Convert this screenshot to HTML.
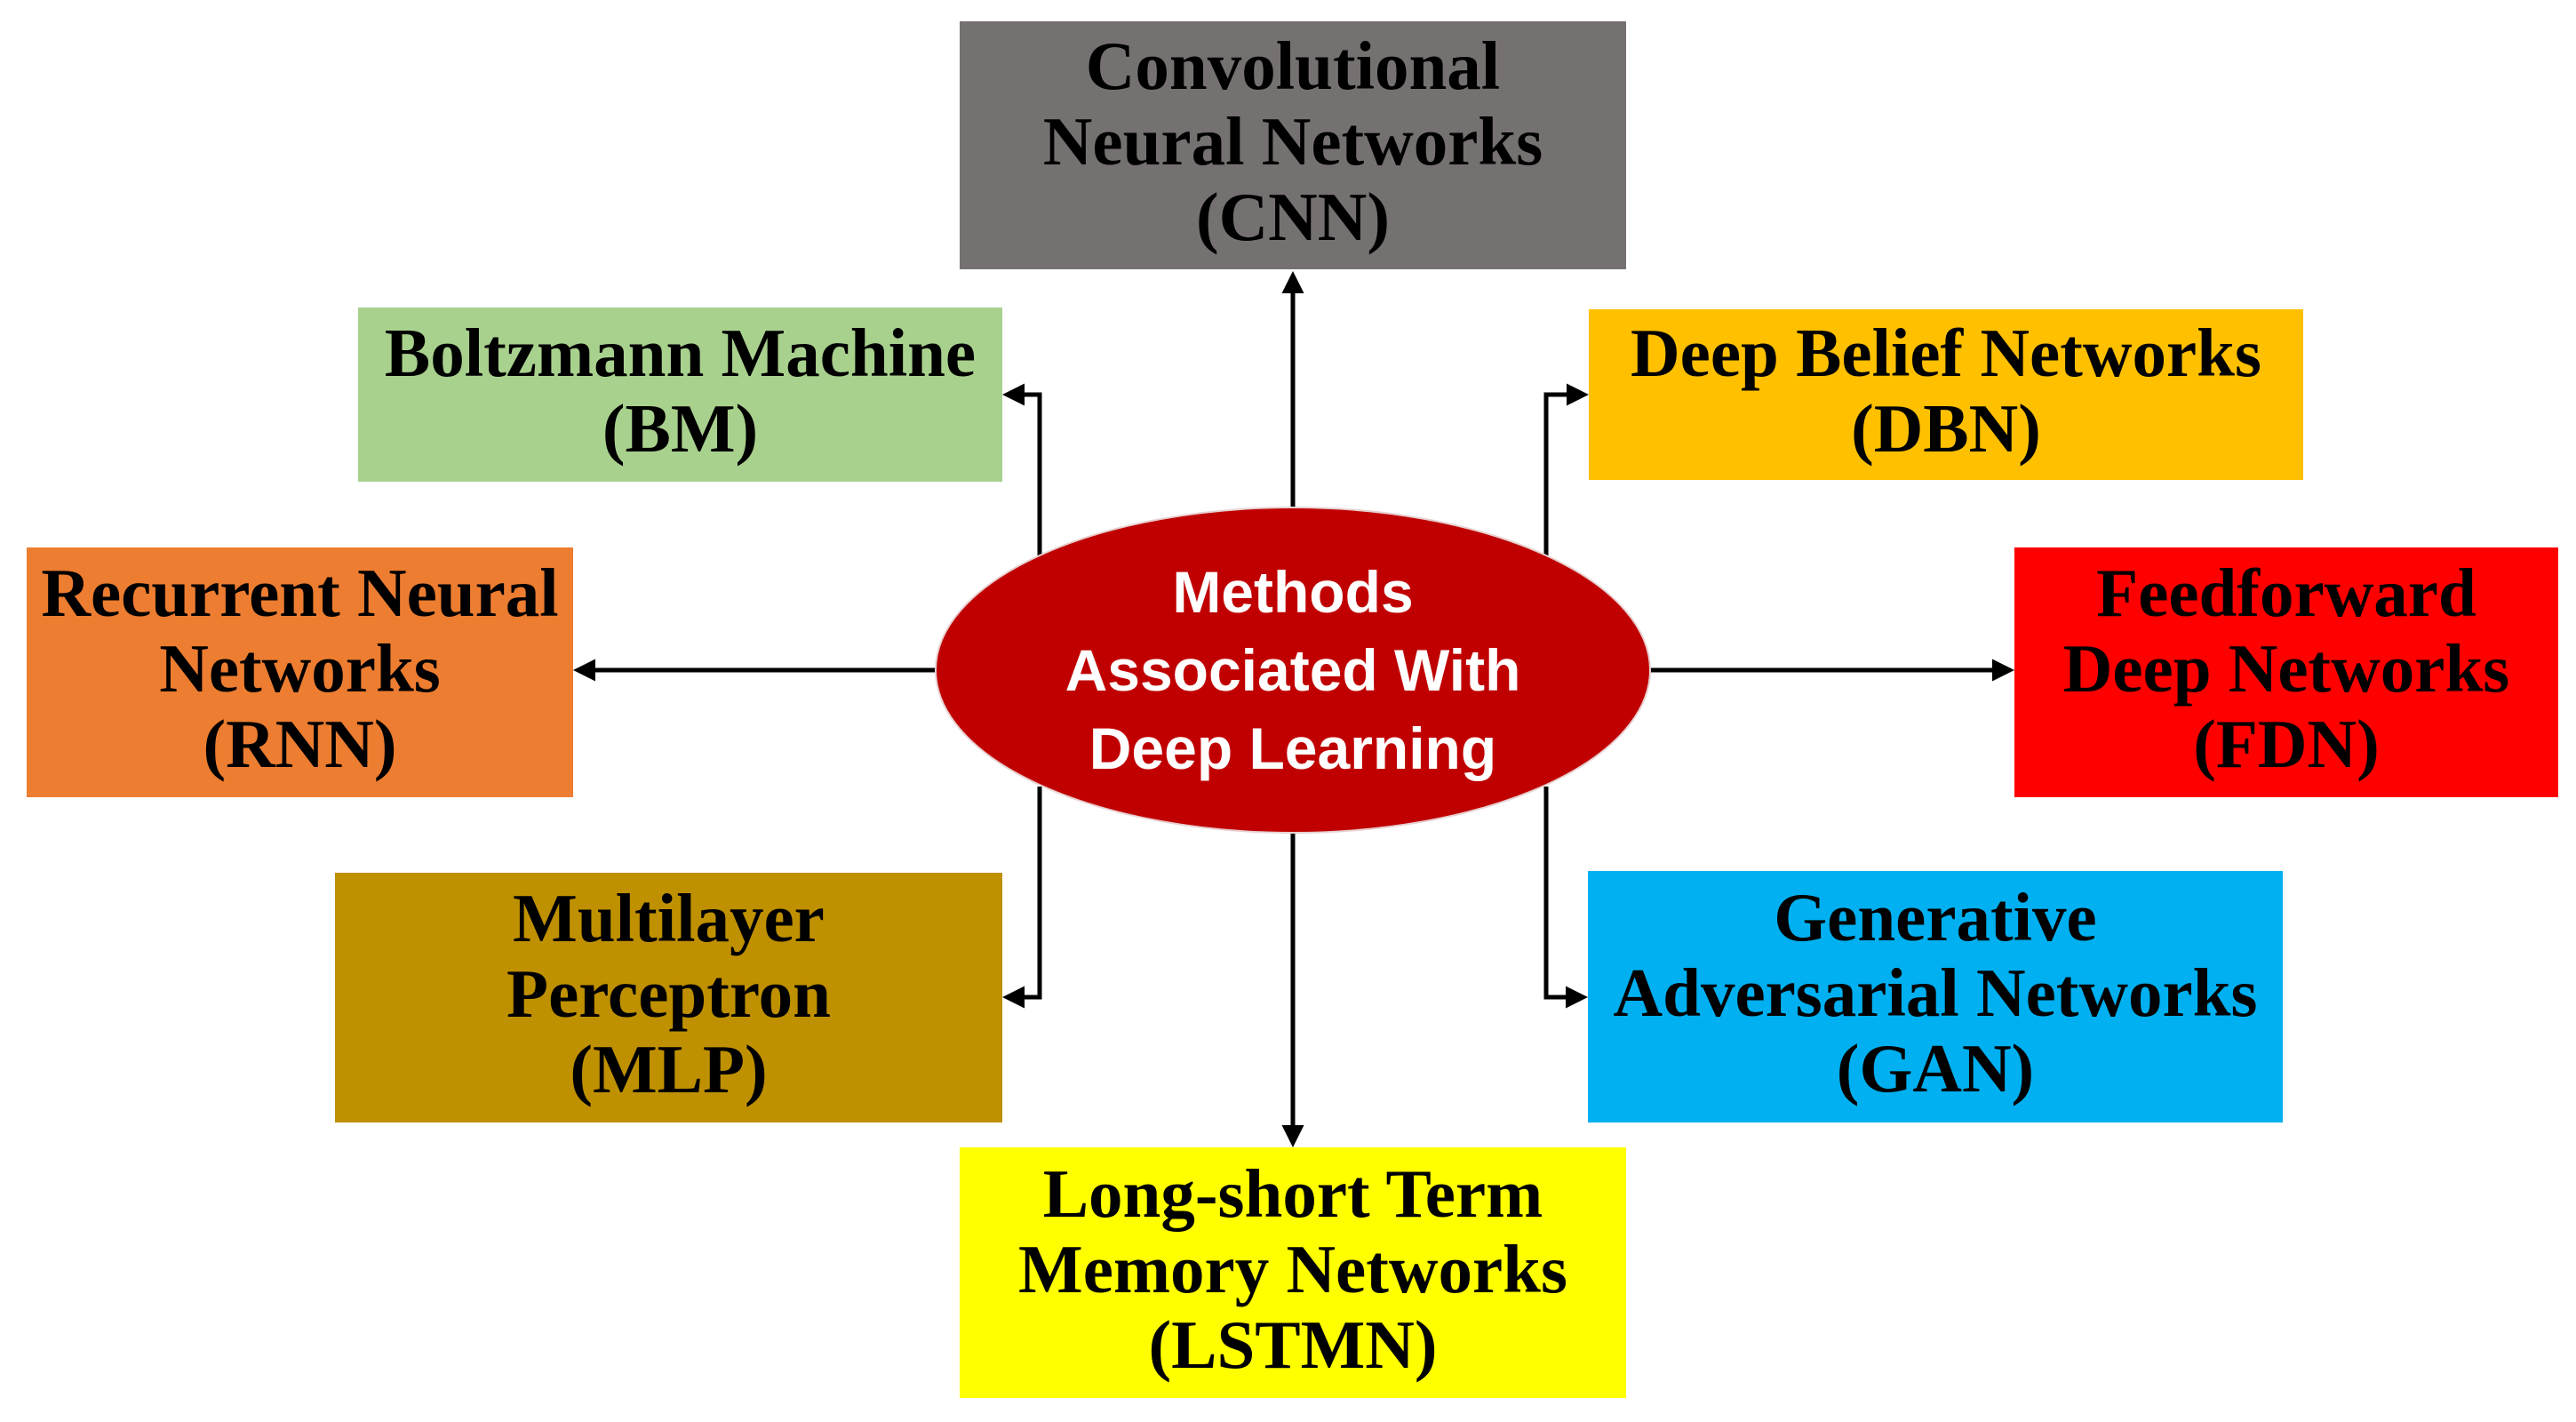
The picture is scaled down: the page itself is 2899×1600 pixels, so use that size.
<!DOCTYPE html>
<html><head><meta charset="utf-8"><style>
html,body{margin:0;padding:0;background:#fff;}
body{width:2899px;height:1600px;position:relative;overflow:hidden;}
.b{position:absolute;display:flex;align-items:center;justify-content:center;text-align:center;font-family:"Liberation Serif",serif;font-weight:bold;font-size:77px;line-height:85px;color:#000;padding-bottom:8px;box-sizing:border-box;}
svg{position:absolute;left:0;top:0;}
.e{position:absolute;left:1053px;top:570px;width:804px;height:368px;display:flex;align-items:center;justify-content:center;text-align:center;font-family:"Liberation Sans",sans-serif;font-weight:bold;font-size:66px;line-height:88px;color:#fff;}
</style></head><body>
<svg width="2899" height="1600">
<defs><marker id="a" markerWidth="5" markerHeight="5" refX="4" refY="2.5" orient="auto" markerUnits="strokeWidth"><path d="M0,0 L5,2.5 L0,5 Z" fill="#000"/></marker></defs>
<g stroke="#000" stroke-width="5" fill="none">
<line x1="1455" y1="572" x2="1455" y2="310" marker-end="url(#a)"/>
<line x1="1455" y1="936" x2="1455" y2="1286" marker-end="url(#a)"/>
<line x1="1056" y1="754" x2="650" y2="754" marker-end="url(#a)"/>
<line x1="1855" y1="754" x2="2262" y2="754" marker-end="url(#a)"/>
<polyline points="1170,625 1170,444 1133,444" marker-end="url(#a)"/>
<polyline points="1740,625 1740,444 1783,444" marker-end="url(#a)"/>
<polyline points="1170,885 1170,1122 1133,1122" marker-end="url(#a)"/>
<polyline points="1740,885 1740,1122 1782,1122" marker-end="url(#a)"/>
</g>
<ellipse cx="1455" cy="754" rx="402" ry="183" fill="#C00000" stroke="#e8d0d0" stroke-width="2"/>
</svg>
<div class="e">Methods<br>Associated With<br>Deep Learning</div>
<div class="b" style="left:1080px;top:24px;width:750px;height:279px;background:#767171;">Convolutional<br>Neural Networks<br>(CNN)</div>
<div class="b" style="left:403px;top:346px;width:725px;height:196px;background:#A9D18E;">Boltzmann Machine<br>(BM)</div>
<div class="b" style="left:30px;top:616px;width:615px;height:281px;background:#ED7D31;">Recurrent Neural<br>Networks<br>(RNN)</div>
<div class="b" style="left:1788px;top:348px;width:804px;height:192px;background:#FFC000;">Deep Belief Networks<br>(DBN)</div>
<div class="b" style="left:2267px;top:616px;width:612px;height:281px;background:#FF0000;">Feedforward<br>Deep Networks<br>(FDN)</div>
<div class="b" style="left:377px;top:982px;width:751px;height:281px;background:#BF9000;">Multilayer<br>Perceptron<br>(MLP)</div>
<div class="b" style="left:1787px;top:980px;width:782px;height:283px;background:#00B0F0;">Generative<br>Adversarial Networks<br>(GAN)</div>
<div class="b" style="left:1080px;top:1291px;width:750px;height:282px;background:#FFFF00;">Long-short Term<br>Memory Networks<br>(LSTMN)</div>
</body></html>
